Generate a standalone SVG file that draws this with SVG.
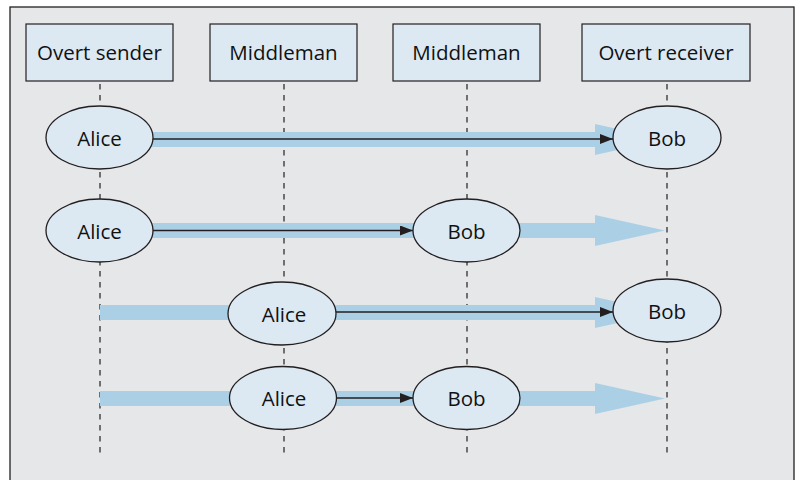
<svg xmlns="http://www.w3.org/2000/svg" width="800" height="480" viewBox="0 0 800 480">
<style>
.bg{fill:#e6e7e9;stroke:#231f20;stroke-width:1.3}
.hdr{fill:#dce9f3;stroke:#231f20;stroke-width:1.2}
.node{fill:#dce9f3;stroke:#231f20;stroke-width:1.3}
.t{font-family:"Open Sans","Noto Sans",sans-serif;font-size:20.5px;fill:#111;text-anchor:middle}
.life{stroke:#231f20;stroke-width:1.2;stroke-dasharray:5.5 5.5;fill:none}
.band{fill:#abd0e6}
.msg{stroke:#231f20;stroke-width:1.4;fill:none;marker-end:url(#ah)}
</style>
<defs>
<marker id="ah" markerWidth="13" markerHeight="10" refX="13" refY="5" orient="auto" markerUnits="userSpaceOnUse">
<path d="M0,0 L13,5 L0,10 Z" fill="#231f20"/>
</marker>
</defs>
<rect class="bg" x="10" y="7" width="784" height="500"/>
<g id="hdr-sender"><rect class="hdr" x="26" y="24" width="147" height="57"/><text class="t" x="99.5" y="59.5">Overt sender</text></g>
<g id="hdr-middle1"><rect class="hdr" x="210" y="24" width="147" height="57"/><text class="t" x="283.5" y="59.5">Middleman</text></g>
<g id="hdr-middle2"><rect class="hdr" x="393" y="24" width="147" height="57"/><text class="t" x="466.5" y="59.5">Middleman</text></g>
<g id="hdr-receiver"><rect class="hdr" x="582" y="24" width="168" height="57"/><text class="t" x="666" y="59.5">Overt receiver</text></g>
<g id="connectors">
<line class="life" x1="100" y1="84" x2="100" y2="453"/>
<line class="life" x1="284" y1="84" x2="284" y2="453"/>
<line class="life" x1="467" y1="84" x2="467" y2="453"/>
<line class="life" x1="667" y1="84" x2="667" y2="453"/>
<polygon class="band" points="100,132 595,132 595,124 665,139.5 595,155 595,147 100,147"/>
<polygon class="band" points="100,223 595,223 595,215 665,230.5 595,246 595,238 100,238"/>
<polygon class="band" points="100,305 595,305 595,297 665,312.5 595,328 595,320 100,320"/>
<polygon class="band" points="100,391 595,391 595,383 665,398.5 595,414 595,406 100,406"/>
<line class="msg" x1="153" y1="139" x2="613" y2="139"/>
<line class="msg" x1="153" y1="230.5" x2="413" y2="230.5"/>
<line class="msg" x1="336" y1="312" x2="613" y2="312"/>
<line class="msg" x1="337" y1="398" x2="413" y2="398"/>
</g>
<g id="alice1"><ellipse class="node" cx="99.5" cy="137.5" rx="53.5" ry="31.5"/><text class="t" x="99.5" y="145.5">Alice</text></g>
<g id="bob1"><ellipse class="node" cx="667" cy="137.5" rx="54" ry="31.5"/><text class="t" x="667" y="145.5">Bob</text></g>
<g id="alice2"><ellipse class="node" cx="99.5" cy="230.5" rx="53.5" ry="31.5"/><text class="t" x="99.5" y="238.5">Alice</text></g>
<g id="bob2"><ellipse class="node" cx="466.5" cy="230.5" rx="53.5" ry="31.5"/><text class="t" x="466.5" y="238.5">Bob</text></g>
<g id="alice3"><ellipse class="node" cx="282" cy="313.5" rx="54" ry="31.5"/><text class="t" x="284" y="321.5">Alice</text></g>
<g id="bob3"><ellipse class="node" cx="667" cy="310.5" rx="54" ry="31.5"/><text class="t" x="667" y="318.5">Bob</text></g>
<g id="alice4"><ellipse class="node" cx="283" cy="398" rx="53.5" ry="31.5"/><text class="t" x="284" y="406">Alice</text></g>
<g id="bob4"><ellipse class="node" cx="466.5" cy="398" rx="53.5" ry="31.5"/><text class="t" x="466.5" y="406">Bob</text></g>
</svg>
